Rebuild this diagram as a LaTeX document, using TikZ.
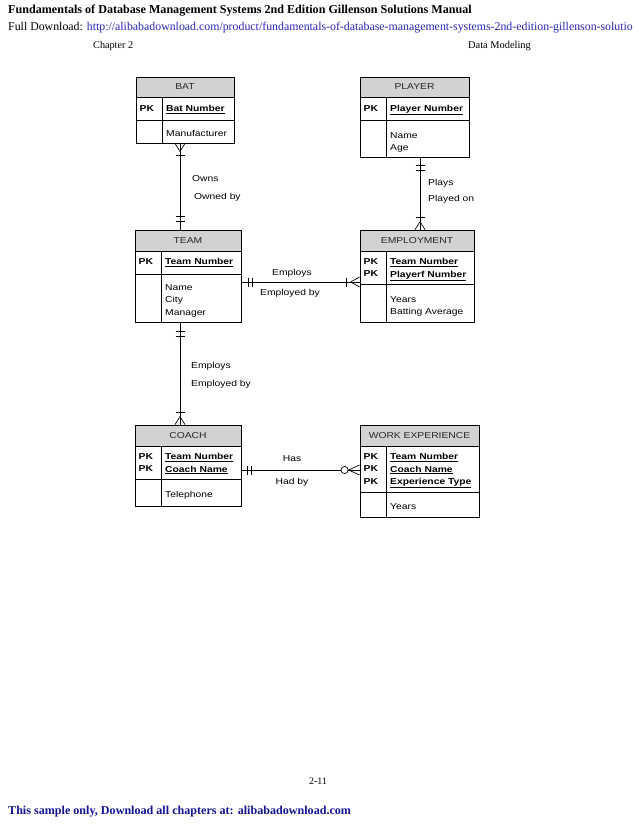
\documentclass[tikz,border=0pt]{standalone}
\usepackage{fontspec}
\setmainfont{Liberation Serif}
\newfontfamily\diag[FakeStretch=1.2]{Liberation Sans}
\usetikzlibrary{fit,calc}
\definecolor{urlblue}{RGB}{40,40,190}
\definecolor{footblue}{RGB}{20,20,150}
\definecolor{titlefill}{RGB}{210,210,210}
\tikzset{
  entbox/.style={draw, line width=0.8pt, inner sep=0pt},
  entline/.style={line width=0.8pt},
  dtxt/.style={font=\diag\fontsize{8.6}{12.5}\selectfont, inner sep=0pt, align=left},
  dbold/.style={dtxt, font=\diag\bfseries\fontsize{8.6}{12.3}\selectfont},
  ttl/.style={dtxt, anchor=base, text=black!85},
  conn/.style={line width=0.7pt},
  rel/.style={dtxt, anchor=base west},
  relc/.style={dtxt, anchor=base},
}
% name, L, R, T, Y1, Y2, B, title
\newcommand\entity[8]{%
  \fill[titlefill] (#2,#4) rectangle (#3,#5);
  \node[entbox, fit={(#2,#4) (#3,#7)}] (#1) {};
  \draw[entline] (#2,#5) -- (#3,#5) (#2,#6) -- (#3,#6) ({#2+26},#5) -- ({#2+26},#7);
  \node[ttl] (#1-t) at ({(#2+#3)/2},{#4+13}) {#8};
}
\newcommand\barV[2]{\draw[conn] ($(#1)+(-4.5,#2)$) -- ++(9,0);}
\newcommand\barH[2]{\draw[conn] ($(#1)+(#2,-4.5)$) -- ++(0,9);}
\newcommand\crowV[2]{\draw[conn] ($(#1)+(-5,0)$) -- ($(#1)+(0,#2)$) -- ($(#1)+(5,0)$);}
\newcommand\crowH[2]{\draw[conn] ($(#1)+(0,-5)$) -- ($(#1)+(#2,0)$) -- ($(#1)+(0,5)$);}
\begin{document}
\begin{tikzpicture}[x=1pt,y=-1pt]
\useasboundingbox (0,0) rectangle (638,826);
\fill[white] (0,0) rectangle (638,826);
\begin{scope}
\clip (0,0) rectangle (638,826);
% header
\node[anchor=base west, inner sep=0pt, font=\bfseries\fontsize{12.1}{14}\selectfont] (h1) at (8,14)
  {Fundamentals of Database Management Systems 2nd Edition Gillenson Solutions Manual};
\node[anchor=base west, inner sep=0pt, font=\fontsize{11.85}{14}\selectfont] (h2) at (8,31)
  {Full Download: \textcolor{urlblue}{http://alibabadownload.com/product/fundamentals-of-database-management-systems-2nd-edition-gillenson-solutio}};
\node[anchor=base west, inner sep=0pt, font=\fontsize{10.2}{12}\selectfont] (ch) at (93,48.5) {Chapter 2};
\node[anchor=base east, inner sep=0pt, font=\fontsize{10.4}{12}\selectfont] (dm) at (531,48.5) {Data Modeling};
\node[anchor=base, inner sep=0pt, font=\fontsize{10}{12}\selectfont] (pg) at (318,784.5) {2-11};
\node[anchor=base west, inner sep=0pt, text=footblue, font=\bfseries\fontsize{12.1}{14}\selectfont] (ft) at (8,814.5)
  {This sample only, Download all chapters at: alibabadownload.com};
\end{scope}

% entities
\entity{bat}{136}{234}{77}{97}{120}{143}{BAT}
\node[dbold, anchor=north west] at (139.5,105) {PK};
\node[dbold, anchor=north west] at (166,105) {\underline{Bat Number}};
\node[dtxt, anchor=north west] at (166,130) {Manufacturer};

\entity{player}{360}{469}{77}{97}{120}{157}{PLAYER}
\node[dbold, anchor=north west] at (363.5,105) {PK};
\node[dbold, anchor=north west] at (390,105) {\underline{Player Number}};
\node[dtxt, anchor=north west] at (390,132.3) {Name\\Age};

\entity{team}{135}{241}{230}{251}{274}{322}{TEAM}
\node[dbold, anchor=north west] at (138.5,258.3) {PK};
\node[dbold, anchor=north west] at (165,258.3) {\underline{Team Number}};
\node[dtxt, anchor=north west] at (165,284) {Name\\City\\Manager};

\entity{emp}{360}{474}{230}{251}{284}{322}{EMPLOYMENT}
\node[dbold, anchor=north west] at (363.5,258.3) {PK\\PK};
\node[dbold, anchor=north west] at (390,258.3) {\underline{Team Number}\\\underline{Playerf Number}};
\node[dtxt, anchor=north west] at (390,296) {Years\\Batting Average};

\entity{coach}{135}{241}{425}{446}{479}{506}{COACH}
\node[dbold, anchor=north west] at (138.5,453.3) {PK\\PK};
\node[dbold, anchor=north west] at (165,453.3) {\underline{Team Number}\\\underline{Coach Name}};
\node[dtxt, anchor=north west] at (165,491) {Telephone};

\entity{we}{360}{479}{425}{446}{492}{517}{WORK EXPERIENCE}
\node[dbold, anchor=north west] at (363.5,453.3) {PK\\PK\\PK};
\node[dbold, anchor=north west] at (390,453.3) {\underline{Team Number}\\\underline{Coach Name}\\\underline{Experience Type}};
\node[dtxt, anchor=north west] at (390,503) {Years};

% BAT - TEAM
\coordinate (c1) at ([xshift=-5pt]bat.south);
\coordinate (c1e) at (c1 |- team.north);
\draw[conn] (c1) -- (c1e);
\crowV{c1}{8} \barV{c1}{12}
\barV{c1e}{-8} \barV{c1e}{-13}
\node[rel] (l1a) at (192,181.5) {Owns};
\node[rel] (l1b) at (194,199.5) {Owned by};

% PLAYER - EMPLOYMENT
\coordinate (c2) at ([xshift=5.5pt]player.south);
\coordinate (c2e) at (c2 |- emp.north);
\draw[conn] (c2) -- (c2e);
\barV{c2}{8} \barV{c2}{13}
\crowV{c2e}{-8} \barV{c2e}{-12}
\node[rel] (l2a) at (428,185.5) {Plays};
\node[rel] (l2b) at (428,201.5) {Played on};

% TEAM - EMPLOYMENT
\coordinate (c3) at ([yshift=-6pt]team.east);
\coordinate (c3e) at (c3 -| emp.west);
\draw[conn] (c3) -- (c3e);
\barH{c3}{7} \barH{c3}{11}
\crowH{c3e}{-9} \barH{c3e}{-13}
\node[relc] (l3a) at (292,275.5) {Employs};
\node[relc] (l3b) at (290,295.5) {Employed by};

% TEAM - COACH
\coordinate (c4) at ([xshift=-8pt]team.south);
\coordinate (c4e) at (c4 |- coach.north);
\draw[conn] (c4) -- (c4e);
\barV{c4}{9} \barV{c4}{14}
\crowV{c4e}{-8} \barV{c4e}{-12}
\node[rel] (l4a) at (191,368.5) {Employs};
\node[rel] (l4b) at (191,386.5) {Employed by};

% COACH - WORK EXPERIENCE
\coordinate (c5) at ([yshift=-4.5pt]coach.east);
\coordinate (c5e) at (c5 -| we.west);
\draw[conn] (c5) -- (c5e);
\barH{c5}{6} \barH{c5}{10}
\crowH{c5e}{-11}
\draw[conn, fill=white] ($(c5e)+(-15,0)$) circle[radius=3.6pt];
\node[relc] (l5a) at (292,461.5) {Has};
\node[relc] (l5b) at (292,484.5) {Had by};
\end{tikzpicture}
\end{document}
